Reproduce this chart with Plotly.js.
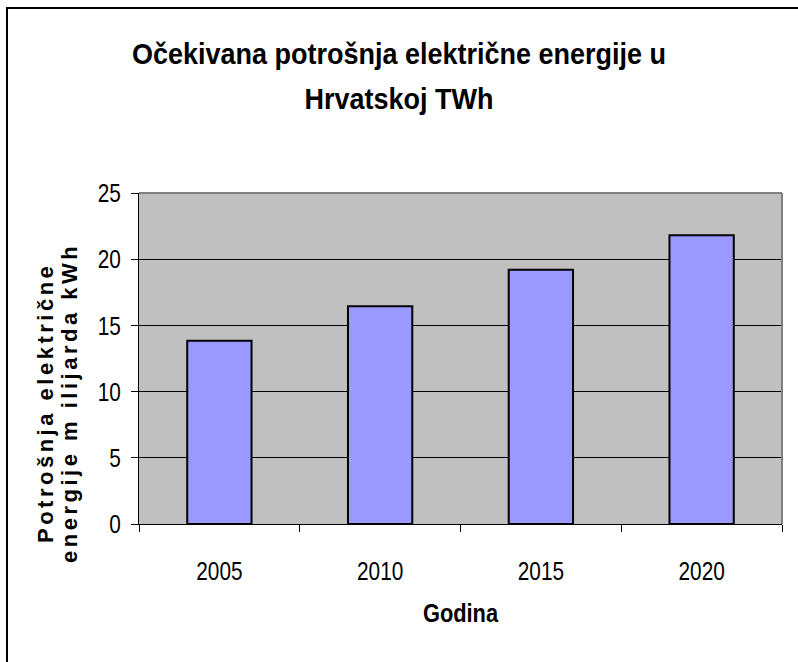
<!DOCTYPE html>
<html>
<head>
<meta charset="utf-8">
<script src="https://cdn.plot.ly/plotly-3.0.1.min.js"></script>
<style>
  html, body { margin: 0; padding: 0; background: #fff; }
  #wrap { position: relative; width: 798px; height: 662px; overflow: hidden; }
  #chart { position: absolute; left: 0; top: 0; width: 798px; height: 662px; }
  #frame { position: absolute; left: 6px; top: 7px; width: 1000px; height: 1000px;
           border-left: 2px solid #000; border-top: 2px solid #000; pointer-events: none; }
  .annotation-text { letter-spacing: 3.5px; }
</style>
</head>
<body>
<div id="wrap">
  <div id="chart"></div>
  <div id="frame"></div>
</div>
<script>
const years = ['2005', '2010', '2015', '2020'];
const consumption = [13.85, 16.45, 19.2, 21.8];
const yTicks = [0, 5, 10, 15, 20, 25];

const chartTitle = 'Očekivana potrošnja električne energije u<br>Hrvatskoj TWh';
const xTitle = 'Godina';
const yTitle = 'Potrošnja električne<br>energije m ilijarda kWh';

const SANS = '"Liberation Sans", Arial, sans-serif';

const trace = {
  type: 'bar',
  x: years,
  y: consumption,
  marker: { color: '#9999ff', line: { color: '#000000', width: 2 } },
  hoverinfo: 'x+y'
};

const layout = {
  width: 798,
  height: 662,
  margin: { l: 139, r: 16, t: 193, b: 138 },
  paper_bgcolor: '#ffffff',
  plot_bgcolor: '#c0c0c0',
  bargap: 0.6,
  showlegend: false,
  title: {
    text: chartTitle,
    font: { family: SANS, size: 30, color: '#000', weight: 'bold' },
    x: 0.5, xref: 'container', xanchor: 'center',
    y: 0.903, yref: 'container', yanchor: 'top'
  },
  xaxis: {
    type: 'category',
    showline: true, linecolor: '#000', linewidth: 1,
    ticks: 'outside', ticklen: 7, tickcolor: '#000', tickson: 'boundaries',
    ticklabelstandoff: 24,
    tickfont: { family: SANS, size: 26, color: '#000' },
    showgrid: false,
    title: { text: xTitle, font: { family: SANS, size: 26, color: '#000', weight: 'bold' }, standoff: 18 }
  },
  yaxis: {
    range: [0, 25],
    tickvals: yTicks,
    ticktext: yTicks.map(String),
    showline: true, linecolor: '#000', linewidth: 1,
    ticks: 'outside', ticklen: 7, tickcolor: '#000',
    ticklabelstandoff: 5,
    tickfont: { family: SANS, size: 26, color: '#000' },
    showgrid: true, gridcolor: '#000', gridwidth: 1,
    zeroline: false
  },
  shapes: [
    { type: 'line', xref: 'paper', yref: 'paper', x0: 0, x1: 1, y0: 1, y1: 1, line: { color: '#808080', width: 2 }, layer: 'above' },
    { type: 'line', xref: 'paper', yref: 'paper', x0: 1, x1: 1, y0: 0, y1: 1, line: { color: '#808080', width: 2 }, layer: 'above' }
  ],
  annotations: [{
    text: yTitle,
    xref: 'paper', yref: 'paper',
    x: -0.1233, y: 0.365,
    xanchor: 'center', yanchor: 'middle',
    textangle: -90,
    showarrow: false,
    font: { family: SANS, size: 22, color: '#000', weight: 'bold' }
  }]
};

// Horizontally condense a text element about its own anchor x (narrow-font look).
function condense(el, s) {
  const x = parseFloat(el.getAttribute('x')) || 0;
  const prev = el.getAttribute('transform') || '';
  el.setAttribute('transform', prev + ' translate(' + x + ',0) scale(' + s + ',1) translate(' + (-x) + ',0)');
}

Plotly.newPlot('chart', [trace], layout, { displayModeBar: false, staticPlot: true }).then(function (gd) {
  gd.querySelectorAll('.xtick text, .ytick text').forEach(function (el) { condense(el, 0.8); });
  gd.querySelectorAll('.g-xtitle text').forEach(function (el) { condense(el, 0.84); });
  gd.querySelectorAll('.g-gtitle text').forEach(function (el) { condense(el, 0.9); });
  // Line spacing like the original
  const tl = gd.querySelectorAll('.g-gtitle text tspan.line');
  if (tl.length > 1) tl[1].setAttribute('dy', '1.48em');
  const al = gd.querySelectorAll('.annotation-text tspan.line');
  if (al.length > 1) al[1].setAttribute('dy', '1.1em');
});
</script>
</body>
</html>
